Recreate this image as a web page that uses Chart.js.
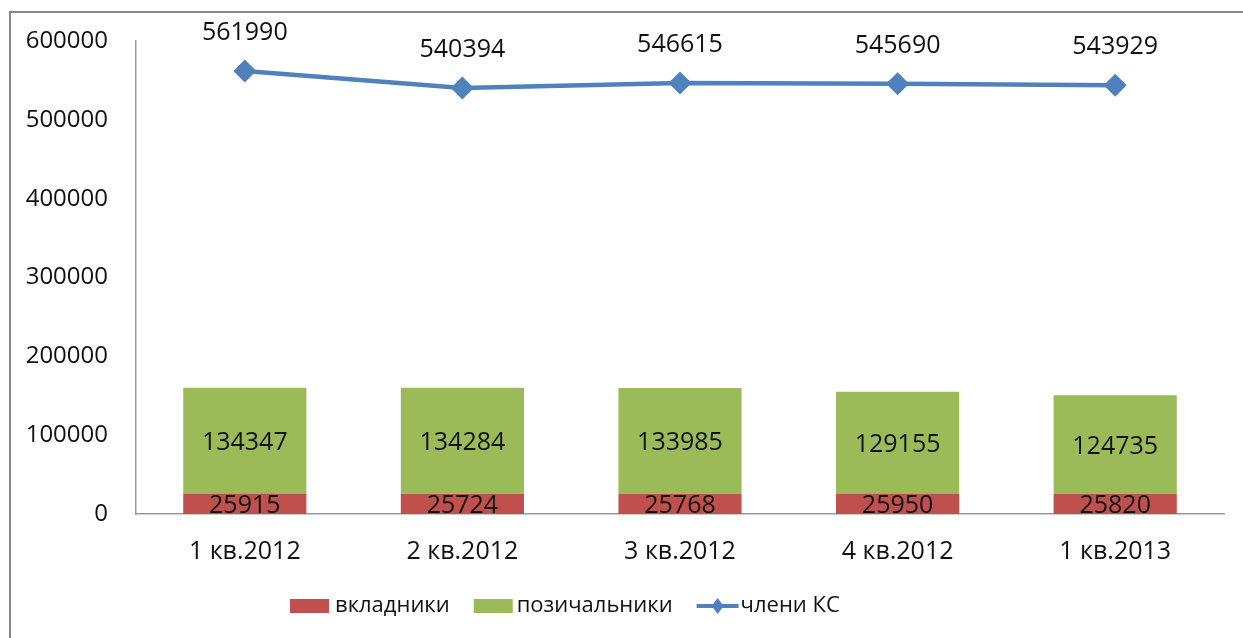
<!DOCTYPE html>
<html>
<head>
<meta charset="utf-8">
<script src="https://cdn.jsdelivr.net/npm/chart.js@4/dist/chart.umd.min.js"></script>
<style>
html, body { margin: 0; padding: 0; background: #fff; overflow: hidden; }
#wrap { width: 1243px; height: 638px; position: relative; }
</style>
</head>
<body>
<div id="wrap"><canvas id="chart"></canvas></div>
<script>
var quarters = ["1 кв.2012", "2 кв.2012", "3 кв.2012", "4 кв.2012", "1 кв.2013"];
var depositors = [25915, 25724, 25768, 25950, 25820];
var borrowers = [134347, 134284, 133985, 129155, 124735];
var members = [561990, 540394, 546615, 545690, 543929];
var yMin = 0, yMax = 600000, yStep = 100000;
var seriesNames = ["вкладники", "позичальники", "члени КС"];

var RED = "#C0504D", GREEN = "#9BBB59", BLUE = "#4F81BD";
var FONT = "'Open Sans', 'DejaVu Sans', sans-serif";
var TEXT = "#111";

// outer frame of the picture
var framePlugin = {
    id: "frame",
    beforeDraw: function(chart){
        var ctx = chart.ctx;
        ctx.save();
        ctx.fillStyle = "#fff";
        ctx.fillRect(0, 0, chart.width, chart.height);
        ctx.strokeStyle = "#878787";
        ctx.lineWidth = 2;
        ctx.strokeRect(10, 12, chart.width + 50, chart.height + 50);
        ctx.restore();
    }
};

// numbers on bars and above points
var labelPlugin = {
    id: "valuelabels",
    afterDatasetsDraw: function(chart){
        var ctx = chart.ctx;
        ctx.save();
        ctx.font = "25px " + FONT;
        ctx.fillStyle = TEXT;
        ctx.textAlign = "center";
        ctx.textBaseline = "middle";
        chart.data.datasets.forEach(function(ds, i){
            var meta = chart.getDatasetMeta(i);
            meta.data.forEach(function(el, j){
                var txt = String(ds.data[j]);
                if(ds.type === "line"){
                    ctx.fillText(txt, el.x, el.y - 38);
                }
                else{
                    ctx.fillText(txt, el.x, (el.y + el.base) / 2 + 2);
                }
            });
        });
        ctx.restore();
    }
};

// legend at the bottom, drawn by hand
var legendPlugin = {
    id: "legendbottom",
    afterDraw: function(chart){
        var ctx = chart.ctx;
        ctx.save();
        ctx.font = "22px " + FONT;
        ctx.fillStyle = TEXT;
        ctx.textBaseline = "middle";
        ctx.textAlign = "left";
        var y = 606;
        var x = 290;
        // вкладники
        ctx.fillStyle = RED;
        ctx.fillRect(x, y - 7, 39, 14);
        x += 45;
        ctx.fillStyle = TEXT;
        ctx.fillText(seriesNames[0], x, y);
        x += ctx.measureText(seriesNames[0]).width + 24;
        // позичальники
        ctx.fillStyle = GREEN;
        ctx.fillRect(x, y - 7, 39, 14);
        x += 43;
        ctx.fillStyle = TEXT;
        ctx.fillText(seriesNames[1], x, y);
        x += ctx.measureText(seriesNames[1]).width + 24;
        // члени КС
        ctx.strokeStyle = BLUE;
        ctx.lineWidth = 4;
        ctx.beginPath();
        ctx.moveTo(x, y);
        ctx.lineTo(x + 42, y);
        ctx.stroke();
        ctx.fillStyle = BLUE;
        ctx.beginPath();
        ctx.moveTo(x + 21, y - 8);
        ctx.lineTo(x + 27, y);
        ctx.lineTo(x + 21, y + 8);
        ctx.lineTo(x + 15, y);
        ctx.closePath();
        ctx.fill();
        ctx.fillStyle = TEXT;
        ctx.fillText(seriesNames[2], x + 44, y);
        ctx.restore();
    }
};

var ctx = document.getElementById("chart").getContext("2d");
var myChart = new Chart(ctx, {
    data: {
        labels: quarters,
        datasets: [
            {
                type: "line",
                label: seriesNames[2],
                data: members,
                stack: "members",
                order: 0,
                borderColor: BLUE,
                backgroundColor: BLUE,
                borderWidth: 4.5,
                pointStyle: "rectRot",
                pointRadius: 11.5,
                pointHoverRadius: 11.5,
                pointBackgroundColor: BLUE,
                pointBorderColor: BLUE,
                pointBorderWidth: 0,
                tension: 0
            },
            {
                type: "bar",
                label: seriesNames[0],
                data: depositors,
                stack: "bars",
                order: 1,
                backgroundColor: RED,
                categoryPercentage: 1,
                barPercentage: 0.566
            },
            {
                type: "bar",
                label: seriesNames[1],
                data: borrowers,
                stack: "bars",
                order: 2,
                backgroundColor: GREEN,
                categoryPercentage: 1,
                barPercentage: 0.566
            }
        ]
    },
    options: {
        responsive: true,
        maintainAspectRatio: false,
        animation: false,
        layout: {
            padding: {left: 0, top: 41, right: 19, bottom: 0}
        },
        plugins: {
            legend: {display: false},
            tooltip: {enabled: false}
        },
        scales: {
            x: {
                stacked: true,
                offset: true,
                grid: {display: false},
                border: {display: true, color: "#9a9a9a", width: 1.5},
                ticks: {
                    color: TEXT,
                    font: {family: FONT, size: 25},
                    padding: 15,
                    maxRotation: 0
                },
                afterFit: function(scale){ scale.height = 124; }
            },
            y: {
                stacked: true,
                min: yMin,
                max: yMax,
                grid: {display: false},
                border: {display: true, color: "#9a9a9a", width: 1.5},
                ticks: {
                    stepSize: yStep,
                    color: TEXT,
                    font: {family: FONT, size: 24},
                    padding: 20,
                    callback: function(v){ return String(v); }
                },
                afterFit: function(scale){ scale.width = 136; }
            }
        }
    },
    plugins: [framePlugin, labelPlugin, legendPlugin]
});
</script>
</body>
</html>
